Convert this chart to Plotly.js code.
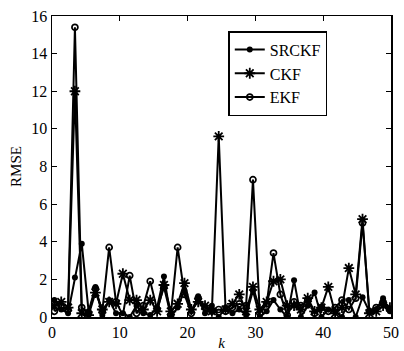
<!DOCTYPE html>
<html><head><meta charset="utf-8">
<script src="https://cdn.plot.ly/plotly-3.0.1.min.js"></script>
<style>html,body{margin:0;padding:0;background:#fff}#c{width:404px;height:351px}</style>
</head><body><div id="c"></div>
<script>
const k = [0.35,1.36,2.37,3.38,4.39,5.40,6.41,7.42,8.43,9.44,10.45,11.46,12.47,13.48,14.49,15.50,16.51,17.52,18.53,19.54,20.55,21.56,22.57,23.58,24.59,25.60,26.61,27.62,28.63,29.64,30.65,31.66,32.67,33.68,34.69,35.70,36.71,37.72,38.73,39.74,40.75,41.76,42.77,43.78,44.79,45.80,46.81,47.82,48.83,49.84];
const srckf = [0.9,0.4,0.2,2.1,3.9,0.3,1.6,0.1,0.9,0.2,0.2,0.0,0.6,0.2,0.1,0.5,2.15,0.0,0.5,1.4,0.3,1.1,0.2,0.6,0.0,0.5,0.2,0.4,0.1,1.4,0.0,0.3,0.9,0.4,0.0,1.95,0.0,0.6,1.3,0.0,0.4,0.3,0.0,0.9,0.0,1.05,0.3,0.4,1.0,0.3];
const ckf = [0.6,0.8,0.5,12.0,0.2,0.1,1.3,0.4,0.8,0.7,2.3,0.9,0.9,0.4,0.9,0.3,1.7,0.3,0.7,1.8,0.4,0.8,0.6,0.3,9.6,0.4,0.7,1.2,0.3,1.6,0.4,0.8,1.9,2.0,0.6,0.6,0.4,1.0,0.3,0.5,1.6,0.2,0.5,2.6,1.2,5.2,0.2,0.3,0.6,0.5];
const ekf = [0.3,0.5,0.4,15.4,0.5,0.2,1.5,0.3,3.7,0.8,0.1,2.2,0.2,0.6,1.9,0.4,1.6,0.1,3.7,1.2,0.2,1.0,0.5,0.3,0.4,0.3,0.5,0.7,0.6,7.3,0.2,0.7,3.4,1.2,0.1,0.8,0.6,0.9,0.2,0.5,0.3,0.5,0.9,0.4,1.0,5.0,0.3,0.5,0.8,0.4];
const xTicks = [0,10,20,30,40,50];
const yTicks = [0,2,4,6,8,10,12,14,16];

const F = "'Liberation Serif', 'Times New Roman', serif";
const line = {color:'#000', width:2};
const traces = [
  {x:k, y:srckf, name:'SRCKF', mode:'lines+markers', line:line,
   marker:{symbol:'circle', size:6, color:'#000'}},
  {x:k, y:ckf, name:'CKF', mode:'lines+markers', line:line,
   marker:{symbol:'asterisk-open', size:9, color:'#000', line:{color:'#000', width:1.8}}},
  {x:k, y:ekf, name:'EKF', mode:'lines+markers', line:line,
   marker:{symbol:'circle-open', size:6, color:'#000', line:{color:'#000', width:1.7}}}
];
const ax = {showgrid:false, zeroline:false, showline:true, linecolor:'#000', linewidth:1.5,
  mirror:'ticks', ticks:'inside', ticklen:5, tickwidth:1, tickcolor:'#000',
  tickfont:{family:F, size:16, color:'#000'}};
const layout = {
  width:404, height:351,
  margin:{l:52, r:13, t:16, b:34},
  paper_bgcolor:'#fff', plot_bgcolor:'#fff',
  font:{family:F, color:'#000'},
  showlegend:true,
  legend:{x:0.52, y:0.95, xanchor:'left', yanchor:'top', bordercolor:'#000', borderwidth:1.5,
    bgcolor:'#fff', font:{family:F, size:16, color:'#000'}, tracegroupgap:0},
  xaxis:Object.assign({}, ax, {range:[0,50], tickvals:xTicks, ticktext:xTicks.map(String),
    title:{text:'<i>k</i>', font:{family:F, size:15, color:'#000'}, standoff:2}}),
  yaxis:Object.assign({}, ax, {range:[0,16], tickvals:yTicks, ticktext:yTicks.map(String),
    title:{text:'RMSE', font:{family:F, size:15, color:'#000'}, standoff:6}})
};
Plotly.newPlot('c', traces, layout, {staticPlot:true, displayModeBar:false});
</script></body></html>
